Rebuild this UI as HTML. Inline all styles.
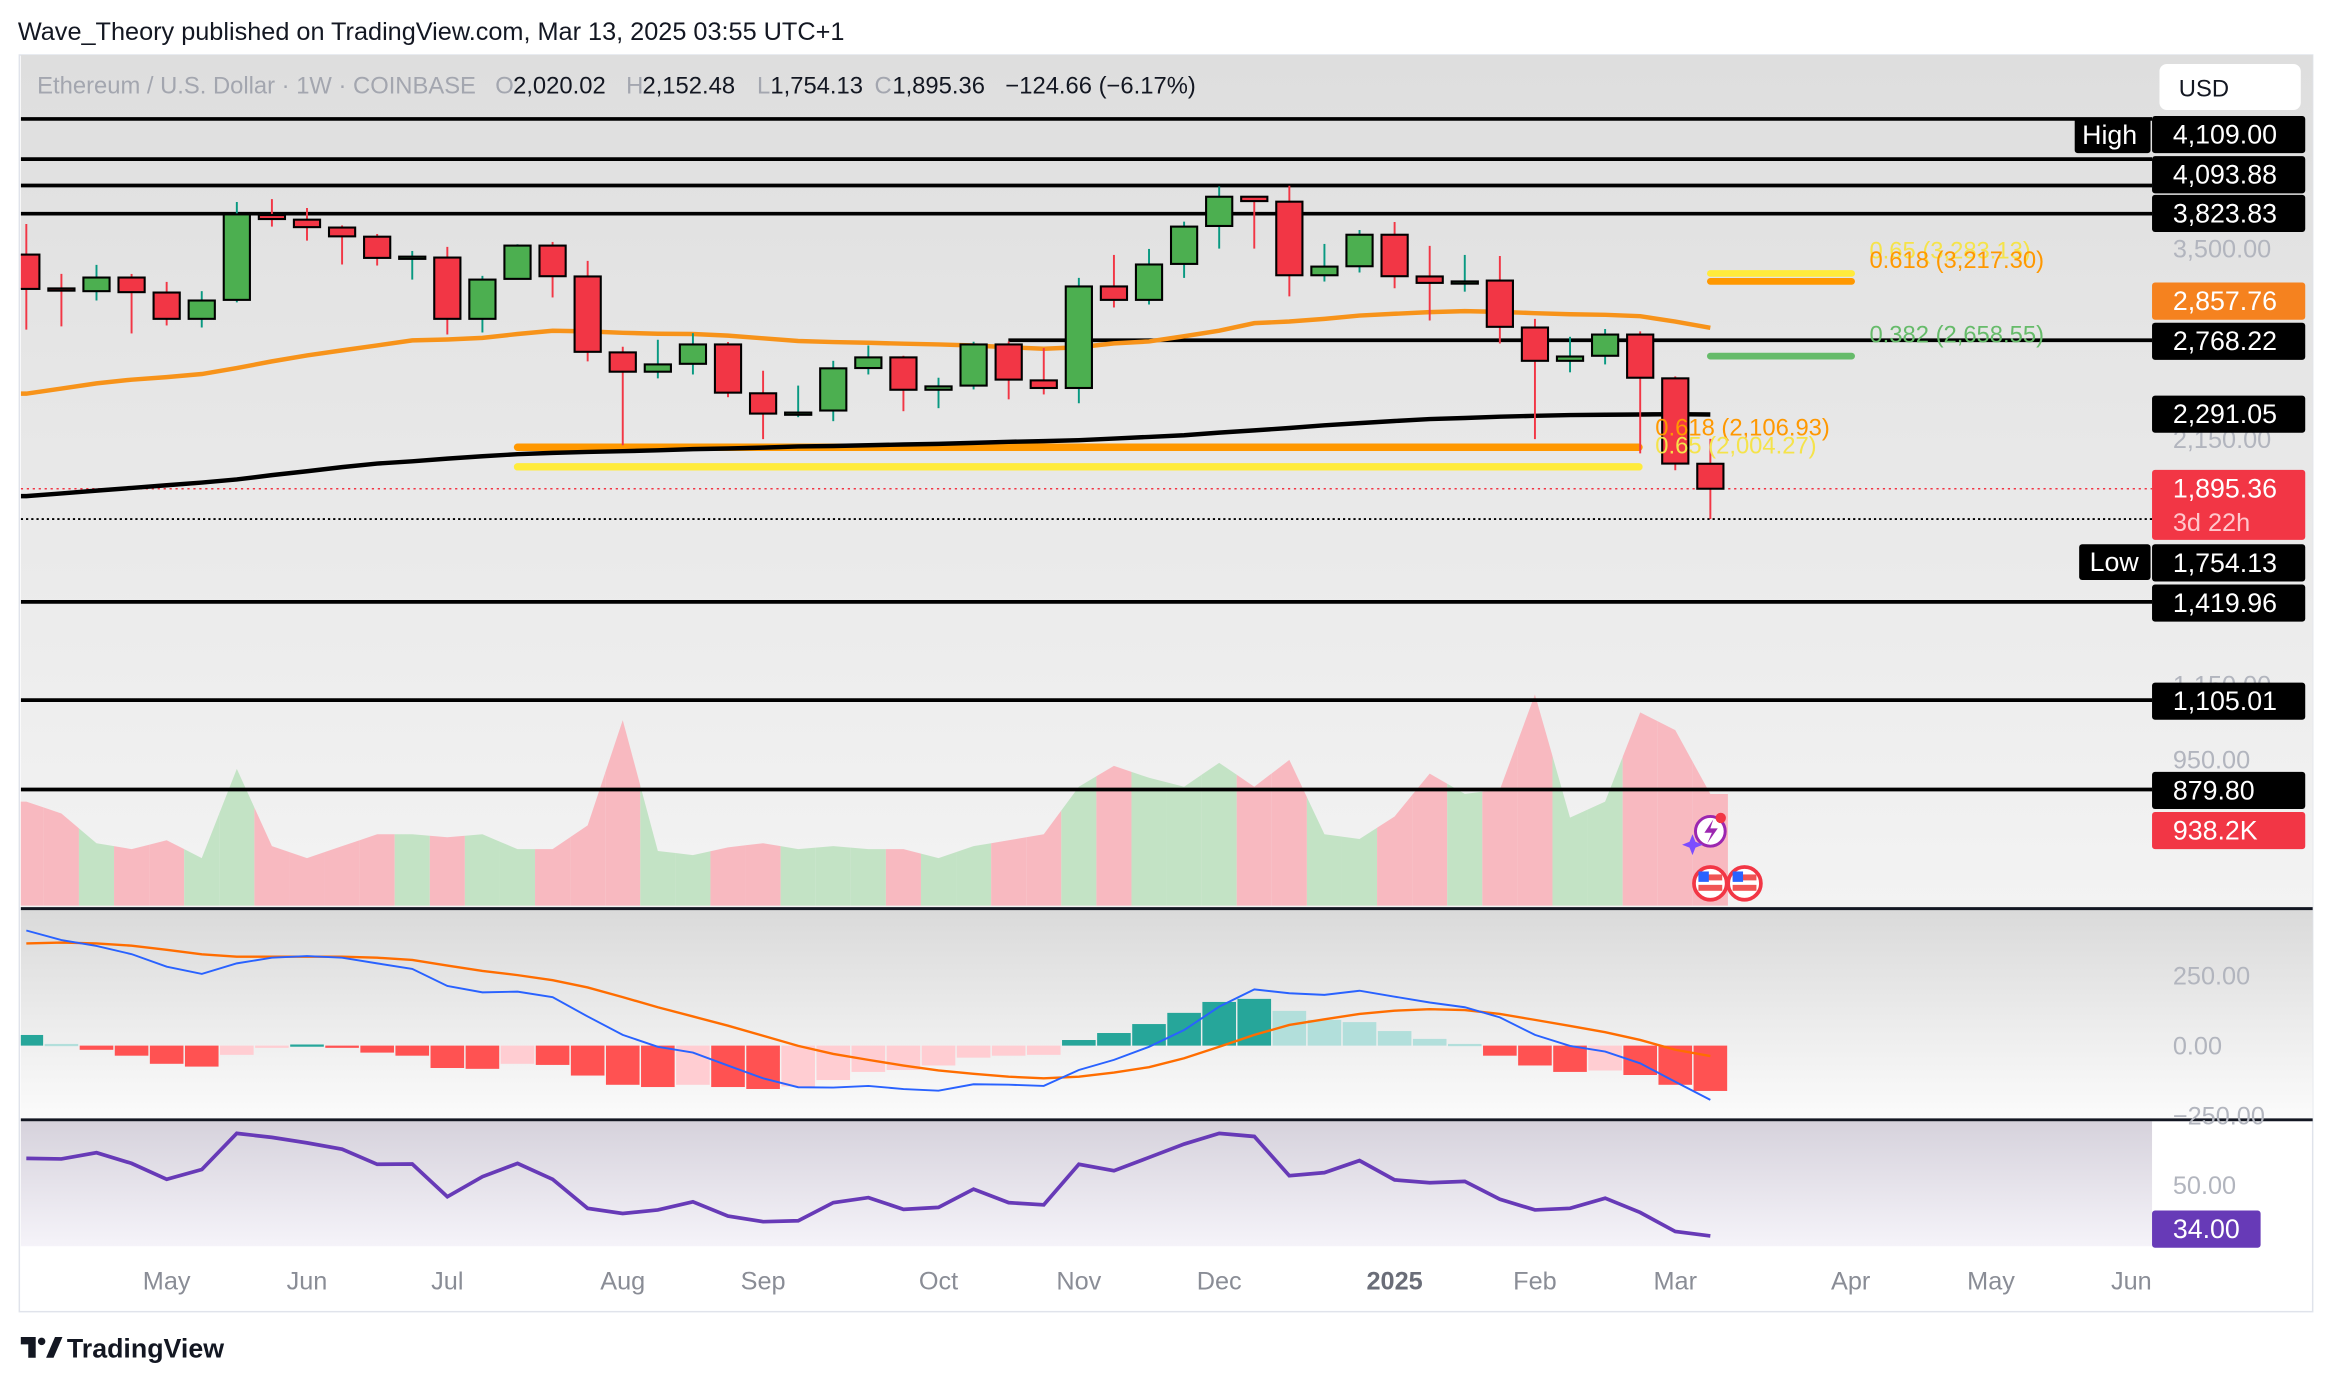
<!DOCTYPE html>
<html><head><meta charset="utf-8"><style>
html,body{margin:0;padding:0;background:#fff;}
svg{display:block;font-family:"Liberation Sans",sans-serif;}
</style></head><body>
<svg id="chart" width="2332" height="1382" viewBox="0 0 1568 929.3" preserveAspectRatio="none" xmlns="http://www.w3.org/2000/svg">
<defs>
<linearGradient id="gMain" x1="0" y1="0" x2="0" y2="1"><stop offset="0" stop-color="#dedede"/><stop offset="1" stop-color="#f3f3f3"/></linearGradient>
<linearGradient id="gMacd" x1="0" y1="0" x2="0" y2="1"><stop offset="0" stop-color="#dadada"/><stop offset="1" stop-color="#fbfbfb"/></linearGradient>
<linearGradient id="gRsi" x1="0" y1="0" x2="0" y2="1"><stop offset="0" stop-color="#d6d2dc"/><stop offset="1" stop-color="#f5f3f9"/></linearGradient>
<clipPath id="cMain"><rect x="14" y="37" width="1433" height="573"/></clipPath>
<clipPath id="cMacd"><rect x="14" y="612" width="1433" height="140"/></clipPath>
<clipPath id="cRsi"><rect x="14" y="754" width="1433" height="84"/></clipPath>
</defs>
<rect x="0" y="0" width="1568" height="929.3" fill="#fff"/>
<text x="12" y="27" font-size="17" fill="#131722">Wave_Theory published on TradingView.com, Mar 13, 2025 03:55 UTC+1</text>
<rect x="13" y="37" width="1542" height="845" fill="#fff" stroke="#e0e3eb" stroke-width="1"/>
<rect x="14" y="37" width="1541" height="573" fill="url(#gMain)"/>
<rect x="14" y="612" width="1541" height="140" fill="url(#gMacd)"/>
<rect x="14" y="754" width="1433" height="84" fill="url(#gRsi)"/>
<g id="gVol" clip-path="url(#cMain)"></g>
<g id="gLevels" clip-path="url(#cMain)"></g>
<g id="gCandles" clip-path="url(#cMain)"></g>
<g id="gMacdG" clip-path="url(#cMacd)"></g>
<g id="gRsiG" clip-path="url(#cRsi)"></g>
<line x1="14" y1="611" x2="1555" y2="611" stroke="#131722" stroke-width="2"/>
<line x1="14" y1="753" x2="1555" y2="753" stroke="#131722" stroke-width="2"/>
<g id="gAxis"></g>
<g font-size="16">
<text x="25" y="63" fill="#a3a6af">Ethereum / U.S. Dollar · 1W · COINBASE</text>
<text x="333" y="63" fill="#a3a6af">O</text><text x="345" y="63" fill="#131722">2,020.02</text>
<text x="421" y="63" fill="#a3a6af">H</text><text x="432" y="63" fill="#131722">2,152.48</text>
<text x="509" y="63" fill="#a3a6af">L</text><text x="518" y="63" fill="#131722">1,754.13</text>
<text x="588" y="63" fill="#a3a6af">C</text><text x="600" y="63" fill="#131722">1,895.36</text>
<text x="676" y="63" fill="#131722">−124.66 (−6.17%)</text>
</g>
<rect x="1452" y="43" width="95" height="31" rx="5" fill="#fff"/>
<text x="1465" y="65" font-size="16" fill="#131722">USD</text>
<g id="gIcons">
<circle cx="1150" cy="559" r="10" fill="#fff" stroke="#9c27b0" stroke-width="2"/>
<path d="M1152 551 L1146 560 L1151 560 L1148 567 L1155 557 L1150 557 Z" fill="#9c27b0"/>
<circle cx="1157" cy="550" r="3.5" fill="#f23645"/>
<path d="M1136 566 l2 -5 l2 5 l5 2 l-5 2 l-2 5 l-2 -5 l-5 -2 Z" fill="#7c4dff"/>
<circle cx="1150" cy="594" r="11" fill="#fff" stroke="#f23645" stroke-width="2.5"/>
<circle cx="1173" cy="594" r="11" fill="#fff" stroke="#f23645" stroke-width="2.5"/>
<rect x="1142" y="588" width="16" height="4" fill="#f05454"/><rect x="1142" y="595" width="16" height="4" fill="#f05454"/><rect x="1142" y="586" width="7" height="7" fill="#2962ff"/>
<rect x="1165" y="588" width="16" height="4" fill="#f05454"/><rect x="1165" y="595" width="16" height="4" fill="#f05454"/><rect x="1165" y="586" width="7" height="7" fill="#2962ff"/>
</g>
<g>
<path d="M14 899 h10 v14 h-5 v-9 h-5 Z" fill="#131722"/><circle cx="28" cy="902" r="2.5" fill="#131722"/><path d="M31 913 l6 -14 h5 l-6 14 Z" fill="#131722"/>
<text x="45" y="913" font-size="18" font-weight="bold" fill="#131722">TradingView</text>
</g>
</svg>
<script>
// ===== data =====
const weeks = ["2024-04-01","2024-04-08","2024-04-15","2024-04-22","2024-04-29","2024-05-06","2024-05-13","2024-05-20","2024-05-27","2024-06-03","2024-06-10","2024-06-17","2024-06-24","2024-07-01","2024-07-08","2024-07-15","2024-07-22","2024-07-29","2024-08-05","2024-08-12","2024-08-19","2024-08-26","2024-09-02","2024-09-09","2024-09-16","2024-09-23","2024-09-30","2024-10-07","2024-10-14","2024-10-21","2024-10-28","2024-11-04","2024-11-11","2024-11-18","2024-11-25","2024-12-02","2024-12-09","2024-12-16","2024-12-23","2024-12-30","2025-01-06","2025-01-13","2025-01-20","2025-01-27","2025-02-03","2025-02-10","2025-02-17","2025-02-24","2025-03-03"];
const opens  = [3445,3160,3138,3249,3127,2924,3069,3811,3766,3691,3606,3425,3419,2924,3238,3525,3258,2684,2555,2607,2739,2418,2300,2314,2579,2650,2440,2466,2739,2499,2451,3176,3069,3364,3706,3993,3943,3268,3344,3624,3258,3215,3224,2860,2627,2661,2809,2512,2020.02];
const highs  = [3725,3279,3356,3279,3213,3138,3940,3969,3880,3711,3631,3477,3513,3263,3537,3558,3390,2723,2772,2819,2756,2561,2466,2627,2732,2661,2516,2758,2760,2714,3246,3442,3495,3747,4100,4000,4106,3540,3668,3744,3522,3442,3433,2924,2793,2849,2832,2525,2152.48];
const lows   = [2845,2868,3064,2817,2875,2860,3049,3700,3570,3359,3350,3232,2809,2824,3238,3088,2623,2118,2512,2537,2394,2151,2275,2252,2537,2310,2328,2442,2381,2411,2357,3010,3033,3246,3498,3498,3097,3216,3291,3161,2912,3134,2746,2151,2551,2603,2074,1987,1754.13];
const closes = [3156,3155,3249,3130,2924,3064,3817,3772,3695,3609,3416,3427,2924,3232,3525,3260,2688,2555,2603,2739,2422,2296,2302,2577,2650,2440,2461,2739,2504,2451,3176,3069,3359,3700,3993,3949,3268,3341,3624,3260,3205,3217,2865,2627,2656,2809,2516,2021,1895.36];
const emaFast = [2416,2447,2480,2504,2520,2540,2579,2623,2663,2698,2732,2767,2774,2785,2813,2837,2832,2822,2815,2813,2801,2782,2763,2756,2751,2744,2739,2732,2720,2709,2720,2746,2760,2797,2837,2892,2904,2924,2949,2962,2974,2982,2977,2966,2959,2954,2944,2904,2857.76];
const smaSlow = [1860,1873,1886,1899,1912,1925,1941,1962,1982,2003,2021,2033,2047,2059,2070,2077,2082,2086,2091,2097,2100,2105,2111,2114,2118,2122,2125,2131,2136,2140,2145,2154,2163,2172,2187,2200,2213,2228,2241,2253,2264,2270,2278,2283,2287,2289,2291,2293,2291.05];
const volumesK = [875,775,525,475,550,400,1150,500,400,500,600,600,575,600,475,475,675,1560,460,425,490,525,475,500,475,475,400,500,550,600,1000,1175,1075,1000,1200,1000,1225,600,560,750,1110,940,975,1775,740,875,1625,1475,938.2];
const macdLine = [411,377,356,327,282,256,294,314,320,314,294,274,213,190,193,173,104,38,-4,-25,-71,-117,-149,-150,-144,-155,-161,-138,-140,-144,-87,-51,-4,56,139,201,187,181,196,175,154,137,101,38,-1,-21,-63,-129,-194];
const signalLine = [365,368,365,357,342,326,318,318,318,318,314,306,286,267,252,234,208,173,137,104,71,35,-1,-30,-51,-71,-89,-101,-111,-117,-111,-96,-77,-45,-4,38,74,94,113,125,130,127,113,92,70,48,20,-15,-37];
const macdHist = [38,6,-15,-36,-65,-75,-33,-7,4,-4,-25,-36,-80,-83,-65,-69,-107,-140,-148,-140,-148,-155,-146,-123,-94,-87,-71,-43,-36,-33,20,45,77,117,156,167,124,92,84,52,24,6,-36,-71,-94,-89,-105,-140,-162];
const rsiValues = [58.5,58.3,60.3,56.9,51.9,55.0,66.4,65.1,63.4,61.4,56.6,56.7,46.4,52.7,56.9,51.9,42.7,41.1,42.2,44.8,40.3,38.5,38.8,44.5,46.1,42.4,43.0,48.8,44.5,43.8,56.6,54.6,58.8,63.0,66.4,65.4,53.0,54.0,57.8,51.7,50.8,51.2,45.6,42.2,42.7,45.9,41.4,35.4,34.0];
const levelPrices = [4870,4395,4109,3823.83,1419.96,1105.01,879.80];
const partialLevel = 2768.22;
const fibLeft = [2106.93,2004.27];
const fibRight = [3283.13,3217.30,2658.55];
const monthLabels = ["May","Jun","Jul","Aug","Sep","Oct","Nov","Dec","2025","Feb","Mar","Apr","May","Jun"];
const monthIdx = [4.0,8.0,12.0,17.0,21.0,26.0,30.0,34.0,39.0,43.0,47.0,52.0,56.0,60.0];
const priceTicks = ["3,500.00","2,150.00","1,150.00","950.00"];
const priceTickVals = [3500,2150,1150,950];
const macdTicks = [250,0,-250];
const rsiTicks = [50];

// ===== scales =====
const NS="http://www.w3.org/2000/svg";
const xAt = i => 17.7 + i*23.59;
const yP = p => 143.7 + 263.5*Math.log(3823.83/p);
const yV = v => 609 - v/12.5;
const yM = v => 703.1 - v*0.1882;
const yR = v => 797 + (50-v)*2.13;
function mk(tag, attrs, parent){const e=document.createElementNS(NS,tag);for(const k in attrs)e.setAttribute(k,attrs[k]);parent.appendChild(e);return e;}
const n = closes.length;
const colUp = i => closes[i] >= opens[i];

// volume
const gVol=document.getElementById('gVol');
for(let i=0;i<n;i++){
  const x=xAt(i), hw=11.8;
  const vl = i>0 ? (volumesK[i-1]+volumesK[i])/2 : volumesK[i];
  const vr = i<n-1 ? (volumesK[i+1]+volumesK[i])/2 : volumesK[i];
  const p=mk('polygon',{points:`${x-hw},609 ${x-hw},${yV(vl)} ${x},${yV(volumesK[i])} ${x+hw},${yV(vr)} ${x+hw},609`,fill:colUp(i)?'#c3e3c5':'#f8b9c0'},gVol);
  
  
}

// levels
const gL=document.getElementById('gLevels');
levelPrices.forEach(v=>{const l=mk('line',{x1:14,x2:1447,y1:yP(v),y2:yP(v),stroke:'#000','stroke-width':2.5},gL);
  
  });
{const l=mk('line',{x1:678,x2:1447,y1:yP(partialLevel),y2:yP(partialLevel),stroke:'#000','stroke-width':2.5},gL);
  
  }
{const l=mk('line',{x1:14,x2:1447,y1:yP(closes[n-1]),y2:yP(closes[n-1]),stroke:'#f23645','stroke-width':1,'stroke-dasharray':'1.5 2.5'},gL);
  
  }
{const l=mk('line',{x1:14,x2:1447,y1:yP(lows[n-1]),y2:yP(lows[n-1]),stroke:'#000','stroke-width':1.2,'stroke-dasharray':'1.5 2'},gL);
  
  }
const fibLCol=['#ff9800','#ffeb3b'];
fibLeft.forEach((v,k)=>{const l=mk('line',{x1:348,x2:1102,y1:yP(v),y2:yP(v),stroke:fibLCol[k],'stroke-width':5,'stroke-linecap':'round'},gL);
  
  });
const fibRCol=['#ffeb3b','#ff9800','#66bb6a'];
fibRight.forEach((v,k)=>{const l=mk('line',{x1:1150,x2:1245,y1:yP(v),y2:yP(v),stroke:fibRCol[k],'stroke-width':4.5,'stroke-linecap':'round'},gL);
  
  });

function path(arr, f){return arr.map((v,i)=>(i?'L':'M')+xAt(i).toFixed(1)+' '+f(v).toFixed(1)).join(' ');}
{const p=mk('path',{d:'M14 '+yP(emaFast[0]).toFixed(1)+' '+path(emaFast,yP).replace('M','L'),fill:'none',stroke:'#f7931a','stroke-width':3},gL);
  
  }
{const p=mk('path',{d:'M14 '+yP(smaSlow[0]).toFixed(1)+' '+path(smaSlow,yP).replace('M','L'),fill:'none',stroke:'#000','stroke-width':3},gL);
  
  }

// candles
const gC=document.getElementById('gCandles');
for(let i=0;i<n;i++){
  const up=colUp(i), x=xAt(i);
  const g=mk('g',{},gC);
  
  
  mk('line',{x1:x,x2:x,y1:yP(highs[i]),y2:yP(lows[i]),stroke:up?'#089981':'#f23645','stroke-width':1.3},g);
  const t=yP(Math.max(opens[i],closes[i])), b=yP(Math.min(opens[i],closes[i]));
  mk('rect',{x:x-8.8,y:t,width:17.6,height:Math.max(b-t,1.5),fill:up?'#4caf50':'#f23645',stroke:'#000','stroke-width':1.4},g);
}
function txt(parent,x,y,s,fill,size,anchor,weight){const t=mk('text',{x:x,y:y,fill:fill,'font-size':size||15,'text-anchor':anchor||'start'},parent);if(weight)t.setAttribute('font-weight',weight);t.textContent=s;return t;}
{const t=txt(gC,1113,yP(fibLeft[0])-8,'0.618 (2,106.93)','#ff9800',16);}
{const t=txt(gC,1113,yP(fibLeft[1])-9,'0.65 (2,004.27)','#f5e34a',16);}
{const t=txt(gC,1257,yP(fibRight[0])-10,'0.65 (3,283.13)','#f5e34a',16);}
{const t=txt(gC,1257,yP(fibRight[1])-9,'0.618 (3,217.30)','#ff9800',16);}
{const t=txt(gC,1257,yP(fibRight[2])-9,'0.382 (2,658.55)','#66bb6a',16);}

// MACD
const gM=document.getElementById('gMacdG');
for(let i=0;i<n;i++){
  const v=macdHist[i], prev=i?macdHist[i-1]:v;
  let c; if(v>=0) c = v>=prev?'#26a69a':'#b2dfdb'; else c = v<=prev?'#ff5252':'#ffcdd2';
  const y0=yM(0), y1=yM(v);
  const r=mk('rect',{x:xAt(i)-11.3,y:Math.min(y0,y1),width:22.6,height:Math.max(Math.abs(y1-y0),1.5),fill:c},gM);
  
  
}
{const p=mk('path',{d:path(signalLine,yM),fill:'none',stroke:'#ff6d00','stroke-width':1.6},gM);
  
  }
{const p=mk('path',{d:path(macdLine,yM),fill:'none',stroke:'#2962ff','stroke-width':1.3},gM);
  
  }

// RSI
const gR=document.getElementById('gRsiG');
{const p=mk('path',{d:path(rsiValues,yR),fill:'none',stroke:'#673ab7','stroke-width':2.5},gR);
  
  }

// axes
const gA=document.getElementById('gAxis');
monthLabels.forEach((m,k)=>{const t=txt(gA,xAt(monthIdx[k]),867,m,m==='2025'?'#6a6d78':'#8a8d96',17,'middle',m==='2025'?'bold':null);
  
  });
priceTicks.forEach((s,k)=>{const t=txt(gA,1461,yP(priceTickVals[k])+6,s,'#b2b5be',17);
  
  });
macdTicks.forEach(v=>{const t=txt(gA,1461,yM(v)+6,v===0?'0.00':(v>0?'250.00':'−250.00'),'#b2b5be',17);
  
  });
rsiTicks.forEach(v=>{const t=txt(gA,1461,yR(v)+6,v.toFixed(2),'#b2b5be',17);
  
  });
function box(y,label,bg,fg,w){const g=mk('g',{},gA);
  
  
  mk('rect',{x:1447,y:y-12,width:w||103,height:25,fill:bg,rx:2},g);txt(g,1461,y+6.5,label,fg,18);return g;}
box(90,'4,109.00','#000','#fff');
box(117,'4,093.88','#000','#fff');
box(143,'3,823.83','#000','#fff');
box(202,'2,857.76','#f5821f','#fff');
box(229,'2,768.22','#000','#fff');
box(278,'2,291.05','#000','#fff');
{const g=mk('g',{},gA);
 
 
 mk('rect',{x:1447,y:316,width:103,height:47,fill:'#f23645',rx:2},g);txt(g,1461,334.5,'1,895.36','#fff',18);txt(g,1461,357,'3d 22h','#ffc7cc',17);}
box(378,'1,754.13','#000','#fff');
box(405,'1,419.96','#000','#fff');
box(471,'1,105.01','#000','#fff');
box(531,'879.80','#000','#fff');
box(558,'938.2K','#f23645','#fff');
box(826,'34.00','#673ab7','#fff',73);
{const g=mk('g',{},gA);
 
 
 mk('rect',{x:1395,y:79,width:51,height:24,fill:'#000',rx:2},g);txt(g,1400,97,'High','#fff',18);}
{const g=mk('g',{},gA);
 
 
 mk('rect',{x:1398,y:366,width:48,height:24,fill:'#000',rx:2},g);txt(g,1405,384,'Low','#fff',18);}
// keep icons on top
document.getElementById('chart').appendChild(document.getElementById('gIcons'));
</script>
</body></html>
